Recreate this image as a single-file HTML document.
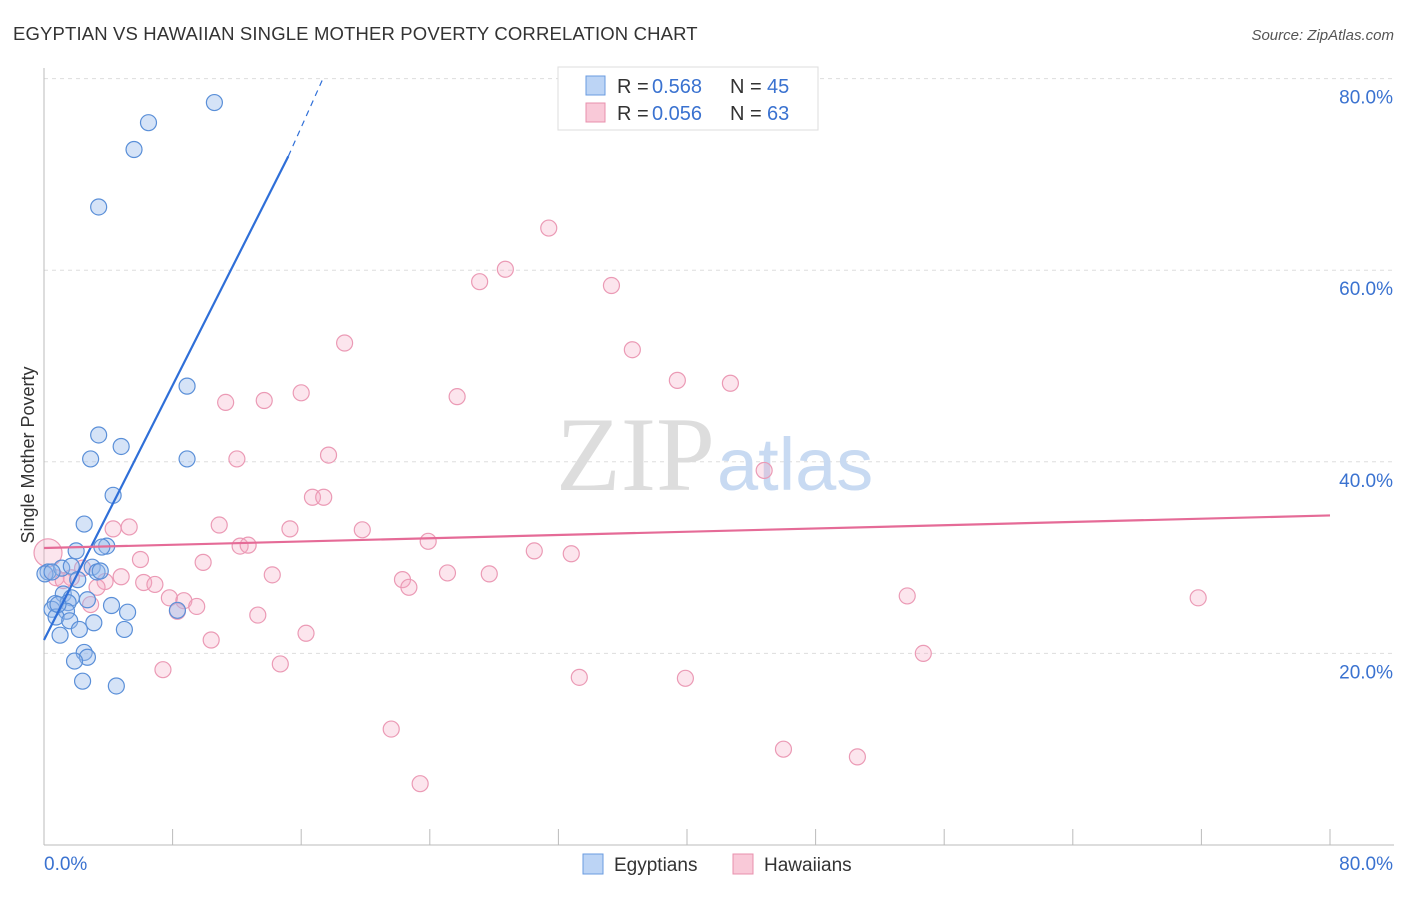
<!DOCTYPE html>
<html><head><meta charset="utf-8"><style>
body{margin:0;background:#fff;font-family:"Liberation Sans",sans-serif}
</style></head><body>
<svg width="1406" height="892" xmlns="http://www.w3.org/2000/svg" font-family="Liberation Sans, sans-serif">
<text x="13" y="40" font-size="18.5" letter-spacing="0.15" fill="#333">EGYPTIAN VS HAWAIIAN SINGLE MOTHER POVERTY CORRELATION CHART</text>
<text x="1394" y="40" font-size="15" fill="#555" font-style="italic" text-anchor="end">Source: ZipAtlas.com</text>
<g id="grid"></g>
<g id="axes"></g>
<text x="715" y="490" font-size="106" fill="#ddd" text-anchor="end" font-family="Liberation Serif, serif">ZIP</text>
<text x="717" y="490" font-size="74" fill="#c8daf2">atlas</text>
<g id="pts"></g>
<g id="lines"></g>
<text x="34" y="455" font-size="18" fill="#333" text-anchor="middle" transform="rotate(-90 34 455)">Single Mother Poverty</text>
<g>
<rect x="558" y="67" width="260" height="63" fill="#fff" stroke="#ddd"/>
<rect x="586" y="76" width="19" height="19" fill="#bcd4f5" stroke="#6a9be0"/>
<rect x="586" y="103" width="19" height="19" fill="#f9c9d8" stroke="#e890ad"/>
<text x="617" y="93" font-size="20" fill="#333">R =</text>
<text x="652" y="93" font-size="20" fill="#3a72d0">0.568</text>
<text x="730" y="93" font-size="20" fill="#333">N =</text>
<text x="767" y="93" font-size="20" fill="#3a72d0">45</text>
<text x="617" y="120" font-size="20" fill="#333">R =</text>
<text x="652" y="120" font-size="20" fill="#3a72d0">0.056</text>
<text x="730" y="120" font-size="20" fill="#333">N =</text>
<text x="767" y="120" font-size="20" fill="#3a72d0">63</text>
</g>
<g>
<rect x="583" y="854" width="20" height="20" fill="#bcd4f5" stroke="#6a9be0"/>
<text x="614" y="871" font-size="19" fill="#333">Egyptians</text>
<rect x="733" y="854" width="20" height="20" fill="#f9c9d8" stroke="#e890ad"/>
<text x="764" y="871" font-size="19" fill="#333">Hawaiians</text>
</g>
</svg>
<script>
const yTicks=[20,40,60,80];
const yTickLabels=["20.0%","40.0%","60.0%","80.0%"];
const egyX=[10.6,6.5,5.6,3.4,8.9,3.4,4.8,2.9,8.9,4.3,2.5,2.0,3.9,3.6,0.25,1.1,1.7,3.0,3.3,2.1,1.2,1.7,2.7,0.7,1.5,4.2,5.2,0.5,1.4,0.75,1.6,3.1,2.2,5.0,1.0,2.5,2.7,1.9,4.5,2.4,8.3,0.06,0.5,3.5,0.87];
const egyY=[77.5,75.4,72.6,66.6,47.9,42.8,41.6,40.3,40.3,36.5,33.5,30.7,31.2,31.1,28.5,28.9,29.1,29.0,28.5,27.7,26.2,25.8,25.6,25.2,25.3,25.0,24.3,24.6,24.4,23.8,23.4,23.2,22.5,22.5,21.9,20.1,19.6,19.2,16.6,17.1,24.5,28.3,28.5,28.6,25.1];
const hawX=[0.25,31.4,28.7,27.1,35.3,18.7,36.6,39.4,42.7,16.0,25.7,13.7,11.3,17.7,12.0,44.8,16.7,17.4,5.3,10.9,4.3,15.3,19.8,23.9,12.2,12.7,30.5,32.8,6.0,9.9,0.75,1.7,4.8,14.2,22.3,22.7,25.1,27.7,3.8,6.2,6.9,3.3,7.8,8.7,9.5,2.9,8.3,53.7,71.8,13.3,16.3,10.4,54.7,14.7,7.4,33.3,39.9,21.6,46.0,50.6,23.4,1.2,2.4];
const hawY=[30.5,64.4,60.1,58.8,58.4,52.4,51.7,48.5,48.2,47.2,46.8,46.4,46.2,40.7,40.3,39.1,36.3,36.3,33.2,33.4,33.0,33.0,32.9,31.7,31.2,31.3,30.7,30.4,29.8,29.5,27.9,27.9,28.0,28.2,27.7,26.9,28.4,28.3,27.5,27.4,27.2,26.9,25.8,25.5,24.9,25.1,24.4,26.0,25.8,24.0,22.1,21.4,20.0,18.9,18.3,17.5,17.4,12.1,10.0,9.2,6.4,27.6,28.9];
const egyTrend=[[0,21.4],[15.2,71.9]], egyDash=[[15.2,71.9],[17.3,79.8]];
const hawTrend=[[0,31.0],[80,34.4]];
const NS="http://www.w3.org/2000/svg";
const X=v=>44+v*1286/80, Y=v=>845-v*9.58;
function mk(t,a,p){const e=document.createElementNS(NS,t);for(const k in a)e.setAttribute(k,a[k]);p.appendChild(e);return e;}
const grid=document.getElementById('grid'),axes=document.getElementById('axes');
yTicks.forEach((t,i)=>{
 const g=mk('line',{x1:44,x2:1394,y1:Y(t),y2:Y(t),stroke:'#ddd','stroke-dasharray':'4,4'},grid);
 
 
 const tx=mk('text',{x:1393,y:Y(t)+25,'font-size':19,fill:'#3a72d0','text-anchor':'end'},axes);
 tx.textContent=yTickLabels[i];
 
 
});
mk('line',{x1:44,x2:44,y1:68,y2:845,stroke:'#bbb'},axes);
mk('line',{x1:44,x2:1394,y1:845,y2:845,stroke:'#bbb'},axes);
for(let i=1;i<=10;i++){const l=mk('line',{x1:X(i*8),x2:X(i*8),y1:829,y2:845,stroke:'#bbb'},axes);
 
 }
let t0=mk('text',{x:44,y:870,'font-size':19,fill:'#3a72d0'},axes);t0.textContent='0.0%';
let t1=mk('text',{x:1393,y:870,'font-size':19,fill:'#3a72d0','text-anchor':'end'},axes);t1.textContent='80.0%';
const pts=document.getElementById('pts');
hawX.forEach((v,i)=>{const c=mk('circle',{cx:X(v),cy:Y(hawY[i]),r:i==0?14:8,fill:'rgba(245,170,195,0.3)',stroke:'#eb9ab5','stroke-width':1.2},pts);
 
 });
egyX.forEach((v,i)=>{const c=mk('circle',{cx:X(v),cy:Y(egyY[i]),r:8,fill:'rgba(150,185,235,0.4)',stroke:'#5a8fd8','stroke-width':1.2},pts);
 
 });
const lines=document.getElementById('lines');
function ln(p,col,dash,name){const l=mk('line',{x1:X(p[0][0]),y1:Y(p[0][1]),x2:X(p[1][0]),y2:Y(p[1][1]),stroke:col,'stroke-width':dash?1.2:2.2},lines);
 if(dash)l.setAttribute('stroke-dasharray','6,5');
 
 }
ln(egyTrend,'#2f6fd8',false,'egyptian-trendline');
ln(egyDash,'#2f6fd8',true,'egyptian-trendline-extension');
ln(hawTrend,'#e56b97',false,'hawaiian-trendline');
</script>
</body></html>
